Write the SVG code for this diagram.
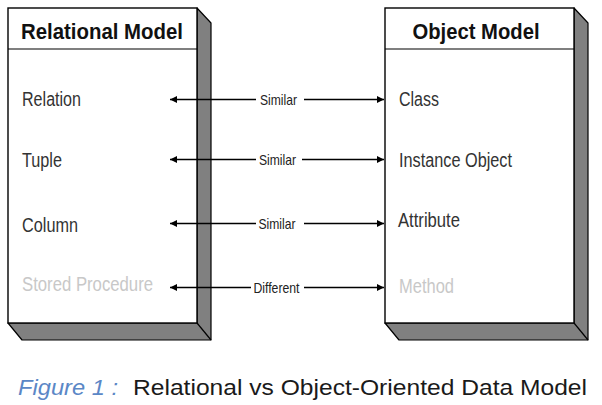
<svg xmlns="http://www.w3.org/2000/svg" width="602" height="405" viewBox="0 0 602 405">
<style>
.front{fill:#fff;stroke:#000;stroke-width:1.4}
.shade{fill:#808080;stroke:#000;stroke-width:1.2;stroke-linejoin:round}
.edge{stroke:#000;stroke-width:1.2}
.title{font-family:"Liberation Sans",Arial,sans-serif;font-weight:bold;font-size:21.5px;fill:#111;text-anchor:middle}
.item{font-family:"Liberation Sans",Arial,sans-serif;font-size:19.5px;fill:#333}
.dim{fill:#c8c8c8}
.lbl{font-family:"Liberation Sans",Arial,sans-serif;font-size:15px;fill:#222}
.conn line{stroke:#000;stroke-width:1.3;marker-end:url(#ah)}
.cap{font-family:"Liberation Sans",Arial,sans-serif;font-size:22px}
</style>
<defs>
<marker id="ah" viewBox="0 0 10 10" refX="10" refY="5" markerWidth="8" markerHeight="7" markerUnits="userSpaceOnUse" orient="auto">
<path d="M0,0 L10,5 L0,10 z" fill="#000"/>
</marker>
</defs>
<rect width="602" height="405" fill="#fff"/>
<g id="relational-model">
<polygon class="shade" points="197,8 211,23 211,340 22,340 8,323 197,323"/>
<line class="edge" x1="197" y1="323" x2="211" y2="340"/>
<rect class="front" x="8" y="8" width="189" height="315"/>
<line class="edge" x1="8" y1="49" x2="197" y2="49"/>
<text class="title" x="102" y="39" textLength="162" lengthAdjust="spacingAndGlyphs">Relational Model</text>
<text class="item" x="22" y="106" textLength="59" lengthAdjust="spacingAndGlyphs">Relation</text>
<text class="item" x="22" y="167" textLength="40" lengthAdjust="spacingAndGlyphs">Tuple</text>
<text class="item" x="22" y="232" textLength="56" lengthAdjust="spacingAndGlyphs">Column</text>
<text class="item dim" x="22" y="291" textLength="131" lengthAdjust="spacingAndGlyphs">Stored Procedure</text>
</g>
<g id="object-model">
<polygon class="shade" points="574,8 588,23 588,340 399,340 385,323 574,323"/>
<line class="edge" x1="574" y1="323" x2="588" y2="340"/>
<rect class="front" x="385" y="8" width="189" height="315"/>
<line class="edge" x1="385" y1="49" x2="574" y2="49"/>
<text class="title" x="476" y="39" textLength="127" lengthAdjust="spacingAndGlyphs">Object Model</text>
<text class="item" x="399" y="106" textLength="40" lengthAdjust="spacingAndGlyphs">Class</text>
<text class="item" x="399" y="167" textLength="113" lengthAdjust="spacingAndGlyphs">Instance Object</text>
<text class="item" x="398" y="227" textLength="62" lengthAdjust="spacingAndGlyphs">Attribute</text>
<text class="item dim" x="399" y="293" textLength="55" lengthAdjust="spacingAndGlyphs">Method</text>
</g>
<g id="connectors" class="conn">
<line x1="256" y1="99.5" x2="170" y2="99.5"/>
<line x1="304" y1="99.5" x2="384" y2="99.5"/>
<line x1="256" y1="159.5" x2="170" y2="159.5"/>
<line x1="302" y1="159.5" x2="384" y2="159.5"/>
<line x1="256" y1="223.5" x2="170" y2="223.5"/>
<line x1="304" y1="223.5" x2="384" y2="223.5"/>
<line x1="251" y1="287.5" x2="170" y2="287.5"/>
<line x1="304" y1="287.5" x2="384" y2="287.5"/>
<text class="lbl" x="260" y="105" textLength="37" lengthAdjust="spacingAndGlyphs">Similar</text>
<text class="lbl" x="259" y="165" textLength="37" lengthAdjust="spacingAndGlyphs">Similar</text>
<text class="lbl" x="258.5" y="229" textLength="37" lengthAdjust="spacingAndGlyphs">Similar</text>
<text class="lbl" x="253.5" y="293" textLength="46" lengthAdjust="spacingAndGlyphs">Different</text>
</g>
<g id="caption">
<text class="cap" x="18" y="395" fill="#5b87c6" font-style="italic" textLength="100" lengthAdjust="spacingAndGlyphs">Figure 1 :</text>
<text class="cap" x="133" y="395" fill="#1a1a1a" textLength="454" lengthAdjust="spacingAndGlyphs">Relational vs Object-Oriented Data Model</text>
</g>
</svg>
